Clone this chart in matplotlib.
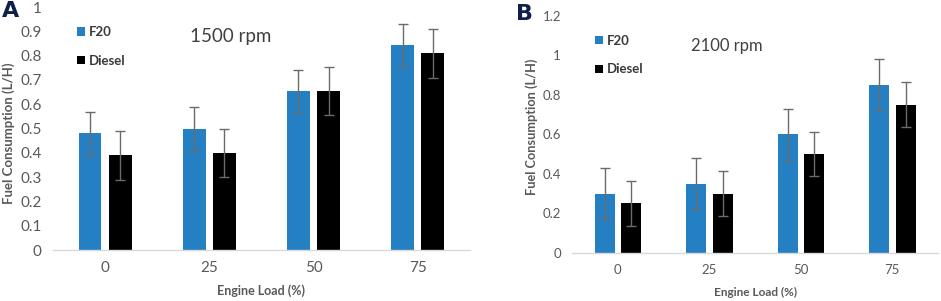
import numpy as np
import matplotlib.pyplot as plt

# Calibri-like look, Lato is the closest installed family
plt.rcParams['font.family'] = ['Lato', 'DejaVu Sans']

# ---- data ----
loads = ['0', '25', '50', '75']

# panel A, 1500 rpm
f20_a = [0.48, 0.50, 0.655, 0.845]
diesel_a = [0.39, 0.40, 0.655, 0.81]
f20_a_err = [0.087, 0.087, 0.087, 0.086]
diesel_a_err = [0.10, 0.10, 0.10, 0.10]

# panel B, 2100 rpm
f20_b = [0.30, 0.35, 0.60, 0.85]
diesel_b = [0.25, 0.30, 0.50, 0.75]
f20_b_err = [0.128, 0.128, 0.13, 0.13]
diesel_b_err = [0.115, 0.115, 0.112, 0.113]

blue = '#2580c3'
black = '#000000'
grey_txt = '#595959'

fig = plt.figure(figsize=(9.41, 3.01), dpi=100)


def draw_panel(ax, f20, diesel, f20_err, diesel_err, ymax, ystep, title, title_size,
               title_xy, tick_size, leg_space, xlab_size, ylab_size):
    x = np.arange(len(loads))
    w = 0.22
    off = 0.145
    ekw = dict(ecolor='#6b6b6b', elinewidth=1.0, capsize=3.5, capthick=1.0)
    ax.bar(x - off, f20, w, color=blue, yerr=f20_err, error_kw=ekw, label='F20')
    ax.bar(x + off, diesel, w, color=black, yerr=diesel_err, error_kw=ekw, label='Diesel')

    ax.set_xlim(-0.5, len(loads) - 0.5)
    ax.set_ylim(0, ymax)
    ax.set_yticks(np.round(np.arange(0, ymax + ystep / 2, ystep), 2))
    ax.set_yticklabels(['%g' % v for v in ax.get_yticks()])
    ax.set_xticks(x)
    ax.set_xticklabels(loads)
    ax.tick_params(length=0, labelsize=tick_size, labelcolor=grey_txt, pad=8)

    # only the bottom axis line, light grey like Excel
    for s in ['top', 'right', 'left']:
        ax.spines[s].set_visible(False)
    ax.spines['bottom'].set_color('#d9d9d9')
    ax.spines['bottom'].set_linewidth(1.0)

    ax.set_xlabel('Engine Load (%)', fontsize=xlab_size, fontweight='bold', color=grey_txt)
    ax.set_ylabel('Fuel Consumption (L/H)', fontsize=ylab_size, fontweight='bold', color=grey_txt)
    ax.text(title_xy[0], title_xy[1], title, transform=ax.transAxes, fontsize=title_size,
            color='#404040', va='center')

    leg = ax.legend(loc='upper left', bbox_to_anchor=(0.03, 0.97), frameon=False,
                    handlelength=0.6, handleheight=0.6, handletextpad=0.3,
                    labelspacing=leg_space, prop={'weight': 'bold', 'size': 9.5})
    for t in leg.get_texts():
        t.set_color('#3a3a3a')


# panel A
ax1 = fig.add_axes([0.0563, 0.1694, 0.443, 0.807])
draw_panel(ax1, f20_a, diesel_a, f20_a_err, diesel_a_err, 1.0, 0.1, '1500 rpm', 13.5,
           (0.328, 0.877), 11, 1.25, 9, 9.5)
ax1.yaxis.set_label_coords(-0.091, 0.48)
ax1.xaxis.set_label_coords(0.5, -0.14)

# panel B
ax2 = fig.add_axes([0.608, 0.160, 0.389, 0.787])
draw_panel(ax2, f20_b, diesel_b, f20_b_err, diesel_b_err, 1.2, 0.2, '2100 rpm', 12,
           (0.325, 0.872), 9.5, 1.25, 8.5, 9.2)
ax2.yaxis.set_label_coords(-0.093, 0.53)
ax2.xaxis.set_label_coords(0.5, -0.143)

# panel letters
fig.text(0.002, 0.965, 'A', fontsize=16, fontweight='bold', color='#0f1f4b', va='center',
         family=['DejaVu Sans'])
fig.text(0.548, 0.955, 'B', fontsize=16, fontweight='bold', color='#0f1f4b', va='center',
         family=['DejaVu Sans'])

fig.savefig('out.png', dpi=100)
